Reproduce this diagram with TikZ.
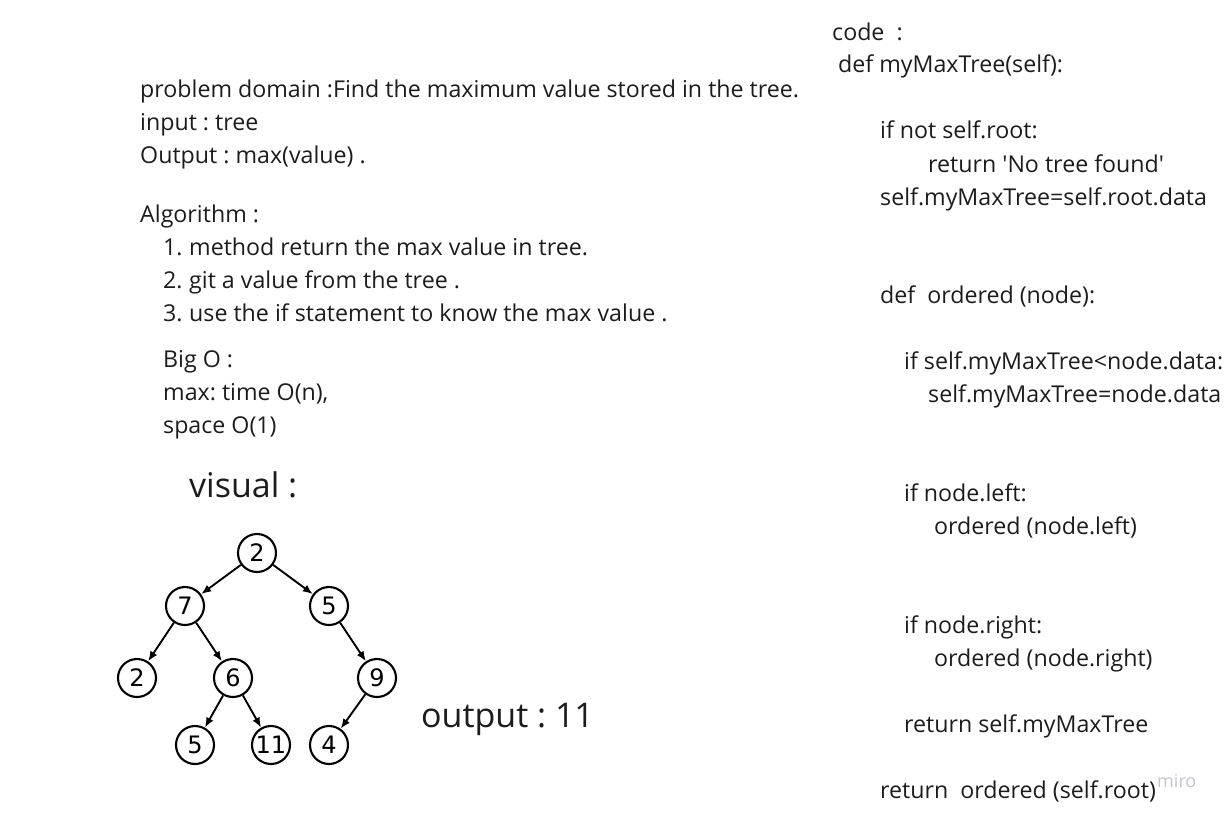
\documentclass[tikz,border=0pt]{standalone}
\usepackage{fontspec}
\setmainfont{Open Sans}
\newfontfamily\dejavu{DejaVu Sans}
\usetikzlibrary{arrows.meta}
\definecolor{txt}{HTML}{1C1C1C}
\definecolor{mirogray}{HTML}{C4C4D0}
\frenchspacing
\tikzset{
  tx/.style={anchor=base west, inner sep=0pt, text=txt, font=\fontsize{23.2}{28}\selectfont},
  big/.style={anchor=base west, inner sep=0pt, text=txt, font=\fontsize{34}{40}\selectfont},
  tn/.style={circle, draw=black, line width=2.1pt, minimum size=38pt, inner sep=0pt, font=\dejavu\fontsize{24}{28}\selectfont},
  edge/.style={line width=1.9pt, -{Latex[length=10pt,width=8pt]}}
}
\begin{document}
\begin{tikzpicture}[x=1pt,y=-1pt]
\useasboundingbox (0,0) rectangle (1224,816);
% left column
\node[tx] (pd) at (140,97) {problem domain :Find the maximum value stored in the tree.};
\node[tx] (in) at (140,130) {input : tree};
\node[tx] (out) at (140,163) {Output : max(value) .};
\node[tx] (alg) at (140,222) {Algorithm :};
\node[tx] (n1) at (163,255) {1.};
\node[tx] (a1) at (189,255) {method return the max value in tree.};
\node[tx] (n2) at (163,288) {2.};
\node[tx] (a2) at (189,288) {git a value from the tree .};
\node[tx] (n3) at (163,321) {3.};
\node[tx] (a3) at (189,321) {use the if statement to know the max value .};
\node[tx] (bo) at (163,367) {Big O :};
\node[tx] (bo1) at (163,400) {max: time O(n),};
\node[tx] (bo2) at (163,433) {space O(1)};
\node[big] (vis) at (189,497) {visual :};
\node[big] (res) at (421,727) {output : 11};
% tree
\node[tn] (r) at (257,553) {2};
\node[tn] (a) at (185,606) {7};
\node[tn] (b) at (329,606) {5};
\node[tn] (c) at (137,678) {2};
\node[tn] (d) at (233,678) {6};
\node[tn] (e) at (377,678) {9};
\node[tn] (f) at (195,745) {5};
\node[tn] (g) at (271,745) {11};
\node[tn] (h) at (329,745) {4};
\draw[edge] (r) -- (a);
\draw[edge] (r) -- (b);
\draw[edge] (a) -- (c);
\draw[edge] (a) -- (d);
\draw[edge] (b) -- (e);
\draw[edge] (d) -- (f);
\draw[edge] (d) -- (g);
\draw[edge] (e) -- (h);
% code column
\node[tx] (k1) at (832,41) {code\ \ :};
\node[tx] (k2) at (838,73) {def myMaxTree(self):};
\node[tx] (k3) at (880,139) {if not self.root:};
\node[tx] (k4) at (928,172) {return \textquotesingle No tree found\textquotesingle};
\node[tx] (k5) at (880,205) {self.myMaxTree=self.root.data};
\node[tx] (k6) at (880,303) {def\ \ ordered (node):};
\node[tx] (k7) at (904,369) {if self.myMaxTree<node.data:};
\node[tx] (k8) at (928,402) {self.myMaxTree=node.data};
\node[tx] (k9) at (904,501) {if node.left:};
\node[tx] (k10) at (934,534) {ordered (node.left)};
\node[tx] (k11) at (904,633) {if node.right:};
\node[tx] (k12) at (934,666) {ordered (node.right)};
\node[tx] (k13) at (904,732) {return self.myMaxTree};
\node[tx] (k14) at (880,798) {return\ \ ordered (self.root)};
\node[anchor=base west, inner sep=0pt, text=mirogray, font=\fontsize{18}{21}\selectfont] (miro) at (1157,787) {miro};
\end{tikzpicture}
\end{document}
